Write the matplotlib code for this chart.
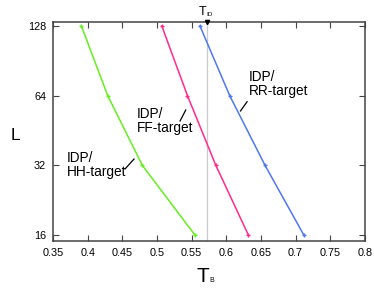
import matplotlib
matplotlib.use("Agg")
import matplotlib.pyplot as plt

plt.rcParams['font.family'] = ['Liberation Sans', 'DejaVu Sans']

# data: L values and transition temperatures T_B per target
L_values = [128, 64, 32, 16]
tb_hh = [0.391, 0.429, 0.479, 0.555]
tb_ff = [0.507, 0.544, 0.585, 0.632]
tb_rr = [0.562, 0.605, 0.656, 0.712]
t_id = 0.572

x_ticks = [0.35, 0.4, 0.45, 0.5, 0.55, 0.6, 0.65, 0.7, 0.75, 0.8]
x_tick_labels = ["0.35", "0.4", "0.45", "0.5", "0.55", "0.6", "0.65", "0.7", "0.75", "0.8"]

fig = plt.figure(figsize=(3.74, 2.95), dpi=100)
ax = fig.add_axes([0.1417, 0.183, 0.834, 0.742])

ax.axvline(t_id, color='#c8cccc', lw=0.9, zorder=1)

ax.plot(tb_hh, L_values, color='#66ee22', lw=1.1, marker='+', ms=3, mew=1)
ax.plot(tb_ff, L_values, color='#ff2a8c', lw=1.1, marker='+', ms=3, mew=1)
ax.plot(tb_rr, L_values, color='#4f78f0', lw=1.1, marker='+', ms=3, mew=1)

ax.set_yscale('log', base=2)
ax.set_ylim(15.1, 133)
ax.set_xlim(0.35, 0.8)
ax.set_yticks(L_values)
ax.set_yticklabels([str(v) for v in L_values])
ax.yaxis.set_minor_locator(matplotlib.ticker.NullLocator())
ax.set_xticks(x_ticks)
ax.set_xticklabels(x_tick_labels)

ax.tick_params(direction='in', top=True, right=True, length=4, width=0.8,
               labelsize=7.8, color='#444444', pad=5)
for s in ax.spines.values():
    s.set_color('#444444')
    s.set_linewidth(1.1)

# annotations
ax.text(0.633, 72, "IDP/\nRR-target", fontsize=9.8, ha='left', va='center', linespacing=1.0)
ax.plot([0.6205, 0.630], [55.0, 60.3], color='black', lw=0.9)
ax.text(0.471, 49.9, "IDP/\nFF-target", fontsize=9.8, ha='left', va='center', linespacing=1.0)
ax.plot([0.5333, 0.5415], [49.8, 55.5], color='black', lw=0.9)
ax.text(0.370, 32.1, "IDP/\nHH-target", fontsize=9.8, ha='left', va='center', linespacing=1.0)
ax.plot([0.4539, 0.4669], [30.9, 34.1], color='black', lw=0.9)

# T_ID marker on top axis
ax.plot([t_id], [133], marker='v', color='black', ms=3, clip_on=False, zorder=5)
fig.text(206.5 / 374, 1 - 12 / 295, "T", fontsize=9, ha='right', va='center')
fig.text(206.5 / 374, 1 - 14 / 295, "ID", fontsize=4.5, ha='left', va='center')

# axis labels
fig.text(15 / 374, 1 - 135 / 295, "L", fontsize=12.5, ha='center', va='center')
fig.text(209 / 374, 1 - 276 / 295, "T", fontsize=15, ha='right', va='center')
fig.text(209.5 / 374, 1 - 281 / 295, "B", fontsize=5, ha='left', va='center')

fig.savefig("out.png", dpi=100)
